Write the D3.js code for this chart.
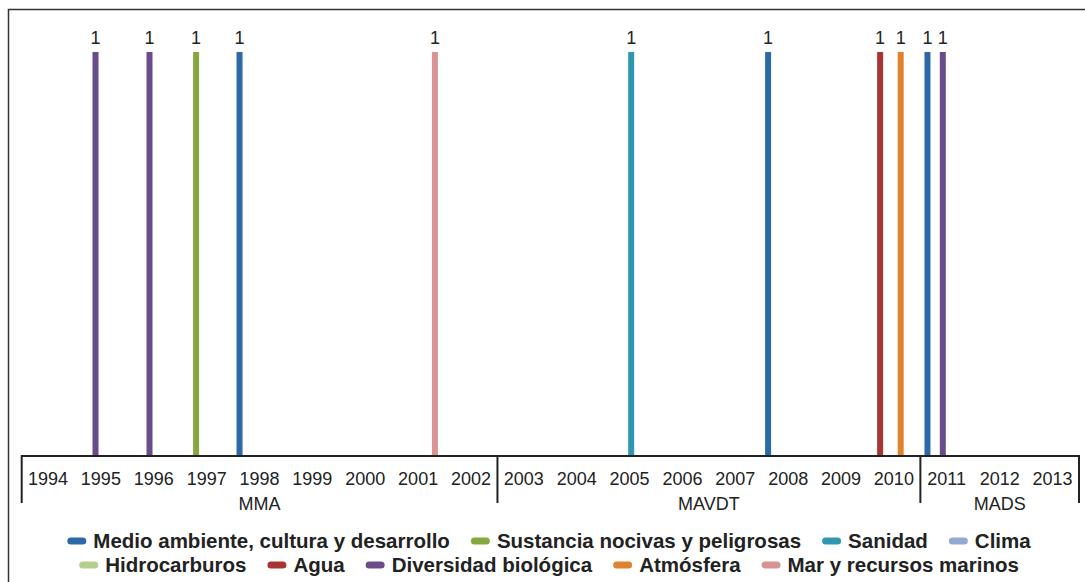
<!DOCTYPE html>
<meta charset="utf-8">
<style>
body { margin: 0; background: #fff; }
svg text { font-family: "Liberation Sans", Arial, sans-serif; fill: #222; }
.axis-line { stroke: #222; stroke-width: 2px; fill: none; }
.legend text { font-weight: bold; font-size: 20.5px; }
</style>
<svg width="1085" height="582"></svg>
<script src="https://cdn.jsdelivr.net/npm/d3@7/dist/d3.min.js"></script>
<script>
// series (legend order) and their colours
var seriesNames = [
  "Medio ambiente, cultura y desarrollo",
  "Sustancia nocivas y peligrosas",
  "Sanidad",
  "Clima",
  "Hidrocarburos",
  "Agua",
  "Diversidad biológica",
  "Atmósfera",
  "Mar y recursos marinos"
];
var seriesColors = ["#2b6aa6", "#86a73e", "#2f97b2", "#93a9d4", "#b4d08e",
                    "#a93434", "#6a4b8b", "#e0822e", "#d99393"];

// one entry per bar: date, series, value
var eventDates  = ["1995-05-26", "1996-06-02", "1997-04-20", "1998-02-14", "2001-10-26",
                   "2005-07-13", "2008-02-14", "2010-03-29", "2010-08-18", "2011-02-19", "2011-06-05"];
var eventSeries = ["Diversidad biológica", "Diversidad biológica", "Sustancia nocivas y peligrosas",
                   "Medio ambiente, cultura y desarrollo", "Mar y recursos marinos", "Sanidad",
                   "Medio ambiente, cultura y desarrollo", "Agua", "Atmósfera",
                   "Medio ambiente, cultura y desarrollo", "Diversidad biológica"];
var eventValues = [1, 1, 1, 1, 1, 1, 1, 1, 1, 1, 1];

// axis categories
var years = [1994, 1995, 1996, 1997, 1998, 1999, 2000, 2001, 2002, 2003,
             2004, 2005, 2006, 2007, 2008, 2009, 2010, 2011, 2012, 2013];
var groupNames = ["MMA", "MAVDT", "MADS"];
var groupFirst = [1994, 2003, 2011];
var groupLast  = [2002, 2010, 2013];

var svg = d3.select("svg");

// outer frame (runs off the right and bottom of the picture)
svg.append("rect")
    .attr("x", 8.5).attr("y", 9.5)
    .attr("width", 1200).attr("height", 700)
    .attr("fill", "none").attr("stroke", "#333").attr("stroke-width", 1.5);

var plotLeft = 21.7, plotRight = 1079, plotTop = 52, plotBase = 456;

var x = d3.scaleTime()
    .domain([new Date(years[0], 0, 1), new Date(years[years.length - 1] + 1, 0, 1)])
    .range([plotLeft, plotRight]);
var y = d3.scaleLinear().domain([0, 1]).range([plotBase, plotTop]);
var color = d3.scaleOrdinal().domain(seriesNames).range(seriesColors);

var parseDate = d3.timeParse("%Y-%m-%d");
var data = eventDates.map(function(d, i) {
  return {date: parseDate(d), series: eventSeries[i], value: eventValues[i]};
});

var barW = 6;

svg.append("g").selectAll("rect")
    .data(data)
  .enter().append("rect")
    .attr("x", function(d) { return x(d.date) - barW / 2; })
    .attr("y", function(d) { return y(d.value); })
    .attr("width", barW)
    .attr("height", function(d) { return y(0) - y(d.value); })
    .attr("fill", function(d) { return color(d.series); });

svg.append("g").selectAll("text")
    .data(data)
  .enter().append("text")
    .attr("x", function(d) { return x(d.date); })
    .attr("y", function(d) { return y(d.value) - 7.7; })
    .attr("text-anchor", "middle")
    .style("font-size", "18px")
    .text(function(d) { return d.value; });

// category axis
var ax = svg.append("g");
ax.append("line").attr("class", "axis-line")
    .attr("x1", plotLeft).attr("x2", plotRight).attr("y1", plotBase).attr("y2", plotBase);

var mid = function(yr) { return x(new Date(yr, 6, 2)); };

ax.selectAll(".yr")
    .data(years)
  .enter().append("text")
    .attr("class", "yr")
    .attr("x", mid)
    .attr("y", 485)
    .attr("text-anchor", "middle")
    .style("font-size", "18px")
    .text(function(d) { return d; });

var bounds = [groupFirst[0]].concat(groupLast.map(function(d) { return d + 1; }));
ax.selectAll(".div")
    .data(bounds)
  .enter().append("line")
    .attr("class", "axis-line")
    .attr("x1", function(d) { return x(new Date(d, 0, 1)); })
    .attr("x2", function(d) { return x(new Date(d, 0, 1)); })
    .attr("y1", plotBase - 1).attr("y2", 503);

ax.selectAll(".grp")
    .data(groupNames)
  .enter().append("text")
    .attr("x", function(d, i) {
      return (x(new Date(groupFirst[i], 0, 1)) + x(new Date(groupLast[i] + 1, 0, 1))) / 2;
    })
    .attr("y", 510)
    .attr("text-anchor", "middle")
    .style("font-size", "18px")
    .text(function(d) { return d; });

// legend, two centred rows
var rows = [seriesNames.slice(0, 4), seriesNames.slice(4)];
var rowY = [541, 565];
var legend = svg.append("g").attr("class", "legend");

rows.forEach(function(names, r) {
  var g = legend.append("g");
  var pos = 0;
  names.forEach(function(name) {
    var it = g.append("g").attr("transform", "translate(" + pos + ",0)");
    it.append("line")
        .attr("x1", 3.5).attr("x2", 15.5)
        .attr("y1", rowY[r]).attr("y2", rowY[r])
        .attr("stroke", color(name))
        .attr("stroke-width", 7)
        .attr("stroke-linecap", "round");
    var t = it.append("text")
        .attr("x", 26)
        .attr("y", rowY[r] + 7)
        .text(name);
    pos += 26 + t.node().getComputedTextLength() + 21;
  });
  var w = pos - 21;
  g.attr("transform", "translate(" + (549 - w / 2) + ",0)");
});
</script>
